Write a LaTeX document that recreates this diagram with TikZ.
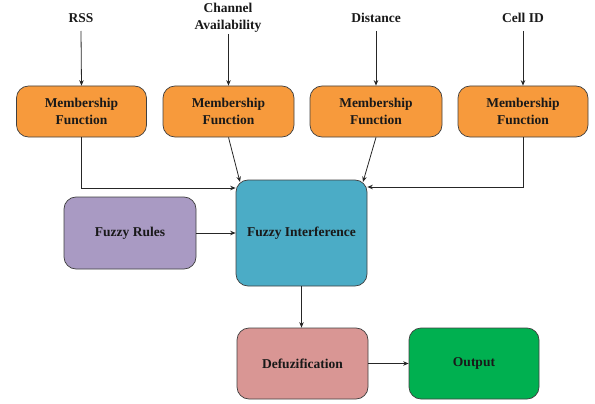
\documentclass[tikz,border=0pt]{standalone}
\usepackage{fontspec}
\setmainfont{Liberation Serif}
\usetikzlibrary{arrows.meta}
\begin{document}
\begin{tikzpicture}[x=1pt,y=-1pt,
  every node/.style={font=\fontsize{13.5}{17}\selectfont\bfseries, align=center, text=black!90},
  blk/.style={draw=black!75, line width=0.7pt, rounded corners=12pt, inner sep=0pt},
  conn/.style={draw=black!85, line width=0.8pt, -{Stealth[length=5.5pt,width=4.5pt]}},
  lbl/.style={inner sep=1pt}
]
\useasboundingbox (0,0) rectangle (595,404);
\definecolor{mforange}{HTML}{F79A3C}
\definecolor{rulepurple}{HTML}{A99AC3}
\definecolor{infteal}{HTML}{4BACC6}
\definecolor{defpink}{HTML}{D99694}
\definecolor{outgreen}{HTML}{00B050}

% input labels
\node[lbl] (rss) at (81,18) {RSS};
\node[lbl] (chan) at (228,18) {Channel\\Availability};
\node[lbl] (dist) at (376,18) {Distance};
\node[lbl] (cell) at (523,18) {Cell ID};

% membership function blocks
\node[blk, fill=mforange, minimum width=130pt, minimum height=51pt] (mf1) at (81.5,111.5) {Membership\\Function};
\node[blk, fill=mforange, minimum width=131pt, minimum height=51pt] (mf2) at (228.5,111.5) {Membership\\Function};
\node[blk, fill=mforange, minimum width=132pt, minimum height=51pt] (mf3) at (376,111.5) {Membership\\Function};
\node[blk, fill=mforange, minimum width=130pt, minimum height=51pt] (mf4) at (523,111.5) {Membership\\Function};

% inference stage
\node[blk, fill=infteal, minimum width=131pt, minimum height=106pt] (inf) at (301.5,233) {Fuzzy Interference};
\node[blk, fill=rulepurple, minimum width=132pt, minimum height=72pt] (rules) at (130,233) {Fuzzy Rules};

% output stage
\node[blk, fill=defpink, minimum width=131pt, minimum height=71pt] (defz) at (302.5,363.5) {Defuzification};
\node[blk, fill=outgreen, minimum width=130pt, minimum height=71pt] (out) at (474,363.5) {Output};

% inputs into membership functions
\draw[conn] (rss.south |- 0,31) -- (mf1.north);
\draw[conn] (228.5,34) -- (mf2.north);
\draw[conn] (dist.south |- 0,31) -- (mf3.north);
\draw[conn] (cell.south |- 0,31) -- (mf4.north);

% membership functions into inference
\coordinate (inA) at (inf.west |- 0,188);
\coordinate (inD) at (inf.east |- 0,187);
\draw[conn] (mf1.south) |- (inA);
\draw[conn] (mf2.south) -- (240,182);
\draw[conn] (mf3.south) -- (363,182);
\draw[conn] (mf4.south) |- (inD);

\draw[conn] (rules.east) -- (inf.west |- rules.east);
\draw[conn] (inf.south) -- (defz.north -| inf.south);
\draw[conn] (defz.east) -- (out.west);
\end{tikzpicture}
\end{document}
